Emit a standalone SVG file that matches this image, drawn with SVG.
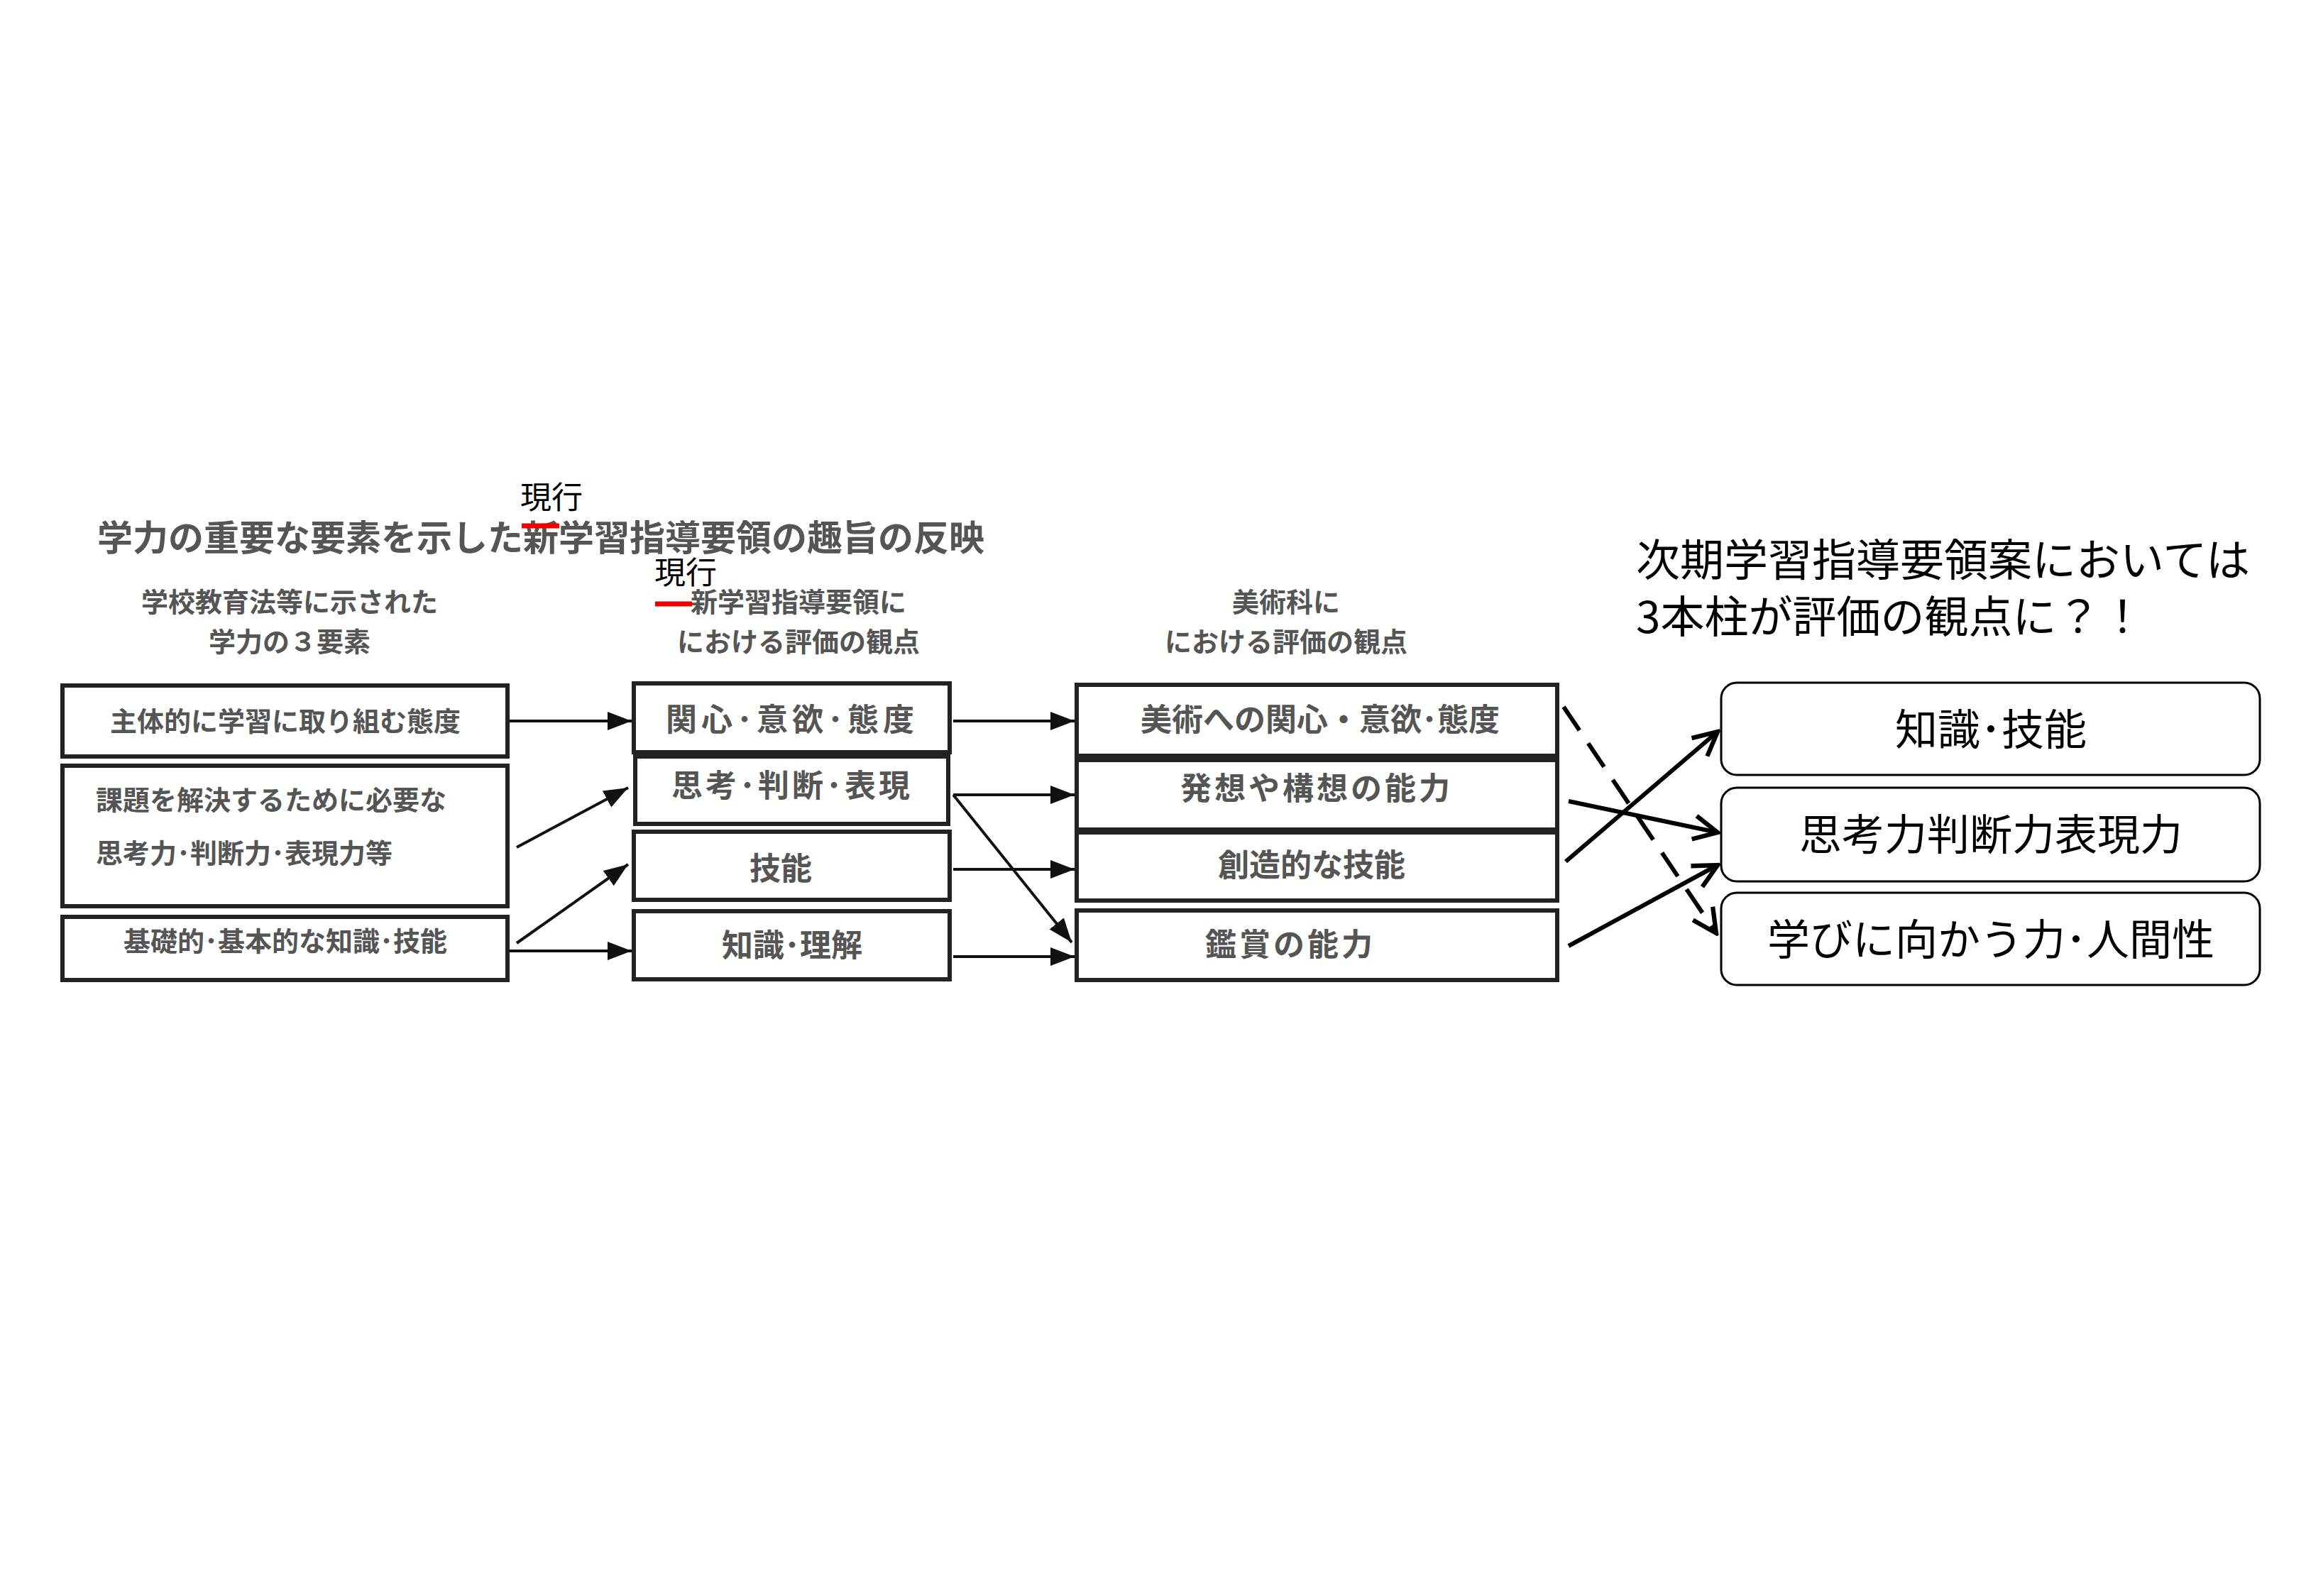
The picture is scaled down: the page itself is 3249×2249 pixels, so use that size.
<svg xmlns="http://www.w3.org/2000/svg" width="3249" height="2249" viewBox="0 0 3249 2249">
<style>
.g{font-family:"Noto Sans CJK JP","Liberation Serif",serif;fill:#555;font-weight:bold}
.k{font-family:"Noto Sans CJK JP","Liberation Sans",sans-serif;fill:#000}
.box{fill:#fff;stroke:#222;stroke-width:6}
.rb{fill:#fff;stroke:#000;stroke-width:3}
.c{stroke:#111;stroke-width:4;fill:none}
.t{stroke:#000;stroke-width:6;fill:none}
</style>
<defs>
<marker id="f" viewBox="0 0 10 10" refX="10" refY="5" markerWidth="34" markerHeight="26" markerUnits="userSpaceOnUse" orient="auto" preserveAspectRatio="none"><path d="M0,0L10,5L0,10z" fill="#111"/></marker>
<marker id="o" viewBox="0 0 10 10" refX="9" refY="5" markerWidth="7" markerHeight="7" orient="auto"><path d="M1,1L9,5L1,9" fill="none" stroke="#000" stroke-width="1.5"/></marker>
</defs>
<rect width="3249" height="2249" fill="#fff"/>
<g id="titles">
<text class="g" x="137" y="776" font-size="50">学力の重要な要素を示した新学習指導要領の趣旨の反映</text>
<text class="k" x="733" y="717" font-size="44">現行</text>
<line x1="735" y1="741" x2="788" y2="741" stroke="#e00" stroke-width="7"/>
<text class="g" x="408" y="862" font-size="38" text-anchor="middle" font-weight="normal">学校教育法等に示された</text>
<text class="g" x="408" y="918" font-size="38" text-anchor="middle" font-weight="normal">学力の３要素</text>
<text class="g" x="1125" y="862" font-size="38" text-anchor="middle" font-weight="normal">新学習指導要領に</text>
<text class="g" x="1125" y="918" font-size="38" text-anchor="middle" font-weight="normal">における評価の観点</text>
<text class="k" x="922" y="823" font-size="44">現行</text>
<line x1="923" y1="851" x2="975" y2="851" stroke="#e00" stroke-width="7"/>
<text class="g" x="1812" y="862" font-size="38" text-anchor="middle" font-weight="normal">美術科に</text>
<text class="g" x="1812" y="918" font-size="38" text-anchor="middle" font-weight="normal">における評価の観点</text>
<text class="k" x="2305" y="812" font-size="62">次期学習指導要領案においては</text>
<text class="k" x="2305" y="892" font-size="62">3本柱が評価の観点に？！</text>
</g>
<g id="n1"><rect class="box" x="88" y="966" width="627" height="100"/><text class="g" x="402" y="1030" font-size="38" text-anchor="middle">主体的に学習に取り組む態度</text></g>
<g id="n2"><rect class="box" x="88" y="1079" width="627" height="198"/><text class="g" x="135" y="1141" font-size="38">課題を解決するために必要な</text><text class="g" x="135" y="1216" font-size="38">思考力･判断力･表現力等</text></g>
<g id="n3"><rect class="box" x="88" y="1292" width="627" height="89"/><text class="g" x="402" y="1340" font-size="38" text-anchor="middle">基礎的･基本的な知識･技能</text></g>
<g id="m1"><rect class="box" x="893" y="963" width="445" height="97"/><text class="g" x="1116" y="1030" font-size="44" text-anchor="middle" letter-spacing="6">関心･意欲･態度</text></g>
<g id="m2"><rect class="box" x="895" y="1066" width="441" height="95"/><text class="g" x="1116" y="1123" font-size="44" text-anchor="middle" letter-spacing="4">思考･判断･表現</text></g>
<g id="m3"><rect class="box" x="893" y="1172" width="445" height="96"/><text class="g" x="1100" y="1240" font-size="44" text-anchor="middle">技能</text></g>
<g id="m4"><rect class="box" x="893" y="1284" width="445" height="96"/><text class="g" x="1116" y="1348" font-size="44" text-anchor="middle">知識･理解</text></g>
<g id="b1"><rect class="box" x="1517" y="965" width="677" height="100"/><text class="g" x="1860" y="1030" font-size="44" text-anchor="middle">美術への関心・意欲･態度</text></g>
<g id="b2"><rect class="box" x="1517" y="1071" width="677" height="98"/><text class="g" x="1855" y="1127" font-size="44" text-anchor="middle" letter-spacing="4">発想や構想の能力</text></g>
<g id="b3"><rect class="box" x="1517" y="1173" width="677" height="96"/><text class="g" x="1848" y="1235" font-size="44" text-anchor="middle">創造的な技能</text></g>
<g id="b4"><rect class="box" x="1517" y="1283" width="677" height="98"/><text class="g" x="1818" y="1347" font-size="44" text-anchor="middle" letter-spacing="4">鑑賞の能力</text></g>
<g id="r1"><rect class="rb" x="2425" y="962" width="759" height="130" rx="22"/><text class="k" x="2805" y="1050" font-size="60" text-anchor="middle">知識･技能</text></g>
<g id="r2"><rect class="rb" x="2425" y="1110" width="759" height="132" rx="22"/><text class="k" x="2805" y="1198" font-size="60" text-anchor="middle">思考力判断力表現力</text></g>
<g id="r3"><rect class="rb" x="2425" y="1258" width="759" height="130" rx="22"/><text class="k" x="2805" y="1346" font-size="60" text-anchor="middle">学びに向かう力･人間性</text></g>
<g id="connectors">
<line class="c" x1="718" y1="1016" x2="890" y2="1016" marker-end="url(#f)"/>
<line class="c" x1="728" y1="1194" x2="885" y2="1110" marker-end="url(#f)"/>
<line class="c" x1="728" y1="1329" x2="885" y2="1218" marker-end="url(#f)"/>
<line class="c" x1="718" y1="1340" x2="890" y2="1340" marker-end="url(#f)"/>
<line class="c" x1="1343" y1="1016" x2="1514" y2="1016" marker-end="url(#f)"/>
<line class="c" x1="1343" y1="1120" x2="1514" y2="1120" marker-end="url(#f)"/>
<line class="c" x1="1343" y1="1225" x2="1514" y2="1225" marker-end="url(#f)"/>
<line class="c" x1="1343" y1="1348" x2="1514" y2="1348" marker-end="url(#f)"/>
<line class="c" x1="1343" y1="1120" x2="1510" y2="1328" marker-end="url(#f)"/>
<line class="t" x1="2203" y1="996" x2="2418" y2="1315" stroke-dasharray="40,22" marker-end="url(#o)"/>
<line class="t" x1="2210" y1="1129" x2="2420" y2="1173" marker-end="url(#o)"/>
<line class="t" x1="2206" y1="1214" x2="2420" y2="1031" marker-end="url(#o)"/>
<line class="t" x1="2210" y1="1333" x2="2420" y2="1219" marker-end="url(#o)"/>
</g>
</svg>
